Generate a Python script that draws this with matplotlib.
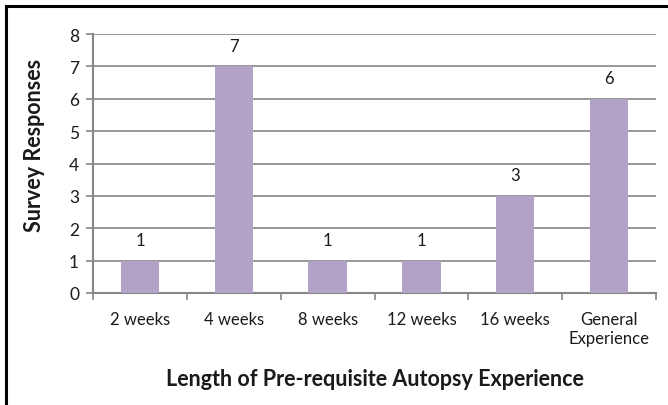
import matplotlib
matplotlib.use("Agg")
import matplotlib.pyplot as plt
from matplotlib.lines import Line2D

categories = ["2 weeks", "4 weeks", "8 weeks", "12 weeks", "16 weeks", "General\nExperience"]
values = [1, 7, 1, 1, 3, 6]
yticks = [0, 1, 2, 3, 4, 5, 6, 7, 8]

plt.rcParams['font.family'] = ['Lato', 'DejaVu Sans']

fig = plt.figure(figsize=(6.68, 4.06), dpi=100)
ax = fig.add_axes([93/668, 1 - 294/406, (656 - 93)/668, (294 - 35)/406])

x = list(range(len(categories)))
bars = ax.bar(x, values, width=0.41, color="#B3A2C7", zorder=3)
for xi, v in zip(x, values):
    ax.annotate(str(v), (xi, v), xytext=(0, 9), textcoords="offset points",
                ha="center", va="bottom", fontsize=12, color="#1a1a1a")

ax.set_xlim(-0.5, len(categories) - 0.5)
ax.set_ylim(0, 8)
ax.set_yticks(yticks)
ax.set_yticklabels([str(t) for t in yticks], fontsize=12.5, color="#1a1a1a")
ax.set_xticks(x)
ax.set_xticklabels(categories, fontsize=12, color="#1a1a1a", linespacing=1.25)
ax.tick_params(axis="x", length=0, pad=13)
ax.set_xticks([i - 0.5 for i in range(len(categories) + 1)], minor=True)
ax.tick_params(axis="x", which="minor", length=5, color="#868686", width=1.2)
ax.tick_params(axis="y", length=5, color="#868686", width=1.2, pad=5)

ax.grid(axis="y", color="#868686", linewidth=1.2, zorder=0)
for s in ["top", "right"]:
    ax.spines[s].set_visible(False)
for s in ["left", "bottom"]:
    ax.spines[s].set_color("#868686")
    ax.spines[s].set_linewidth(1.5)

fig.text((93 + 656) / 2 / 668, 1 - 380/406, "Length of Pre-requisite Autopsy Experience",
         fontsize=15.5, fontweight="bold", color="#1a1a1a", ha="center", va="center")
fig.text(35/668, 1 - 145/406, "Survey Responses", rotation=90, fontsize=15.5, fontweight="bold",
         color="#1a1a1a", ha="center", va="center")

# figure border (left and top only)
fig.add_artist(Line2D([6/668, 6/668], [0, 1 - 7/406], color="black", linewidth=2.2,
                      transform=fig.transFigure))
fig.add_artist(Line2D([6/668, 1], [1 - 7/406, 1 - 7/406], color="black", linewidth=2.2,
                      transform=fig.transFigure))

fig.savefig("out.png", dpi=100)
